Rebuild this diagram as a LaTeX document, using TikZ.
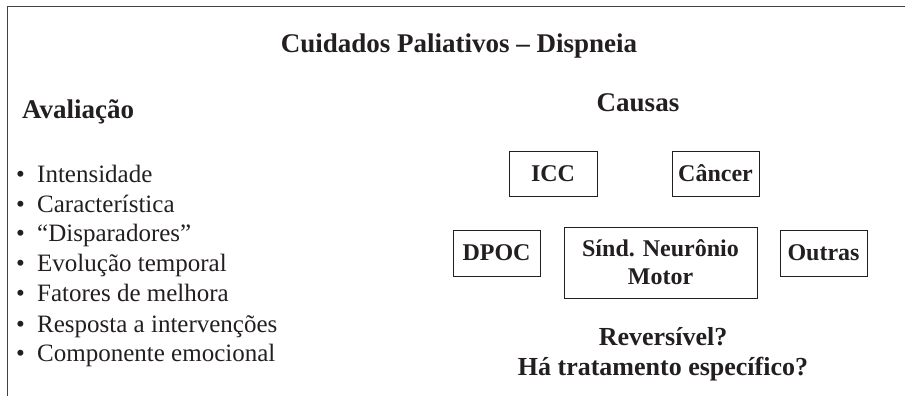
\documentclass[tikz,border=0pt]{standalone}
\usepackage{fontspec}
\setmainfont{Liberation Serif}
\definecolor{ink}{HTML}{231F20}
\tikzset{
  causa/.style={draw=ink,line width=1pt,inner sep=0pt,align=center,font=\fontsize{24}{28}\selectfont\bfseries,text=ink},
  titulo/.style={anchor=base,font=\fontsize{27}{30}\selectfont\bfseries,text=ink},
  item/.style={anchor=base west,font=\fontsize{25}{30}\selectfont,text=ink,inner sep=0pt}
}
\begin{document}
\begin{tikzpicture}[x=1pt,y=-1pt]
  \useasboundingbox (0,0) rectangle (905,396);

  % moldura
  \coordinate (M0) at (7,396);
  \coordinate (M1) at (7,7);
  \coordinate (M2) at (905,7);
  \draw[ink!85,line width=1pt] (M0) -- (M1) -- (M2);

  \node[titulo] (T) at (459,53) {Cuidados Paliativos -- Dispneia};

  % avaliacao
  \node[titulo,anchor=base west,inner sep=0pt] (AV) at (22,118) {Avaliação};
  \node[item] (A1) at (16,182) {\makebox[21pt][l]{•}Intensidade};
  \node[item] (A2) at (16,212) {\makebox[21pt][l]{•}Característica};
  \node[item] (A3) at (16,241) {\makebox[21pt][l]{•}“Disparadores”};
  \node[item] (A4) at (16,271) {\makebox[21pt][l]{•}Evolução temporal};
  \node[item] (A5) at (16,301) {\makebox[21pt][l]{•}Fatores de melhora};
  \node[item] (A6) at (16,332) {\makebox[21pt][l]{•}Resposta a intervenções};
  \node[item] (A7) at (16,361) {\makebox[21pt][l]{•}Componente emocional};

  % causas
  \node[titulo] (CA) at (638,111) {Causas};
  \node[causa,minimum width=88pt,minimum height=45pt] (C1) at (553,173.5) {ICC};
  \node[causa,minimum width=87pt,minimum height=45pt] (C2) at (715.5,173.5) {Câncer};
  \node[causa,minimum width=87pt,minimum height=46pt] (C3) at (496.5,253) {DPOC};
  \node[causa,minimum width=193pt,minimum height=71pt] (C4) at (660.5,262.5) {Sínd. Neurônio\\Motor};
  \node[causa,minimum width=87pt,minimum height=46pt] (C5) at (823.5,253) {Outras};

  \node[titulo,font=\fontsize{26}{30}\selectfont\bfseries] (R1) at (663,345) {Reversível?};
  \node[titulo,font=\fontsize{26}{30}\selectfont\bfseries] (R2) at (663,375) {Há tratamento específico?};
\end{tikzpicture}
\end{document}
